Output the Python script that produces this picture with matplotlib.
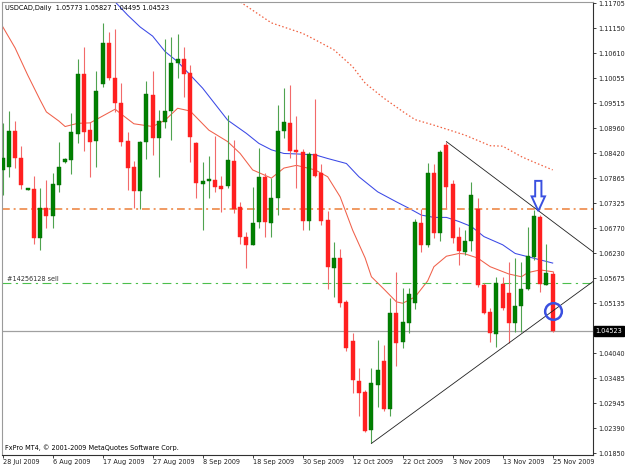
import matplotlib
matplotlib.use("Agg")
import matplotlib.pyplot as plt
from matplotlib.patches import Polygon
import numpy as np

# USDCAD daily bars, 28 Jul 2009 - 25 Nov 2009
opens = [1.0805, 1.0812, 1.0891, 1.0830, 1.0762, 1.0763, 1.0656, 1.0722, 1.0703, 1.0772,
         1.0822, 1.0827, 1.0884, 1.1015, 1.0892, 1.0868, 1.0993, 1.1083, 1.1006, 1.0952,
         1.0868, 1.0812, 1.0759, 1.0866, 1.0969, 1.0874, 1.0911, 1.0933, 1.1040, 1.1048,
         1.1017, 1.0865, 1.0774, 1.0781, 1.0783, 1.0770, 1.0770, 1.0825, 1.0723, 1.0659,
         1.0641, 1.0690, 1.0789, 1.0688, 1.0743, 1.0890, 1.0907, 1.0849, 1.0844, 1.0693,
         1.0839, 1.0799, 1.0695, 1.0591, 1.0611, 1.0516, 1.0431, 1.0343, 1.0319, 1.0235,
         1.0334, 1.0387, 1.0281, 1.0491, 1.0429, 1.0470, 1.0514, 1.0689, 1.0641, 1.0799,
         1.0667, 1.0860, 1.0774, 1.0658, 1.0626, 1.0650, 1.0719, 1.0553, 1.0494, 1.0446,
         1.0555, 1.0535, 1.0470, 1.0507, 1.0544, 1.0614, 1.0701, 1.0553, 1.05773]
highs = [1.0908, 1.0934, 1.0912, 1.0857, 1.0765, 1.0792, 1.0765, 1.0783, 1.0798, 1.0867,
         1.0831, 1.0930, 1.1048, 1.1075, 1.0910, 1.1022, 1.1127, 1.1107, 1.1114, 1.0995,
         1.0889, 1.0825, 1.0868, 1.1000, 1.1022, 1.0936, 1.1092, 1.1097, 1.1102, 1.1075,
         1.1035, 1.0867, 1.0823, 1.0835, 1.0880, 1.0792, 1.0925, 1.0871, 1.0734, 1.0670,
         1.0768, 1.0852, 1.0798, 1.0787, 1.0947, 1.0985, 1.0991, 1.0924, 1.0850, 1.0845,
         1.0960, 1.0819, 1.0716, 1.0648, 1.0631, 1.0520, 1.0447, 1.0371, 1.0323, 1.0371,
         1.0433, 1.0422, 1.0524, 1.0582, 1.0546, 1.0546, 1.0697, 1.0719, 1.0821, 1.0819,
         1.0849, 1.0867, 1.0783, 1.0681, 1.0673, 1.0779, 1.0743, 1.0557, 1.0502, 1.0571,
         1.0571, 1.0604, 1.0611, 1.0604, 1.0681, 1.0717, 1.0706, 1.0643, 1.05827]
lows = [1.0750, 1.0790, 1.0809, 1.0763, 1.0760, 1.0643, 1.0630, 1.0678, 1.0678, 1.0757,
        1.0820, 1.0796, 1.0864, 1.0846, 1.0790, 1.0812, 1.0987, 1.1002, 1.0932, 1.0858,
        1.0761, 1.0722, 1.0719, 1.0829, 1.0838, 1.0790, 1.0897, 1.0871, 1.1006, 1.0965,
        1.0823, 1.0743, 1.0673, 1.0744, 1.0757, 1.0713, 1.0765, 1.0710, 1.0642, 1.0590,
        1.0640, 1.0677, 1.0659, 1.0659, 1.0706, 1.0874, 1.0830, 1.0765, 1.0673, 1.0673,
        1.0790, 1.0684, 1.0544, 1.0527, 1.0504, 1.0409, 1.0317, 1.0265, 1.0232, 1.0206,
        1.0286, 1.0278, 1.0265, 1.0376, 1.0414, 1.0447, 1.0500, 1.0626, 1.0636, 1.0655,
        1.0650, 1.0721, 1.0645, 1.0597, 1.0619, 1.0627, 1.0549, 1.0489, 1.0429, 1.0418,
        1.0498, 1.0425, 1.0451, 1.0451, 1.0542, 1.0608, 1.0538, 1.0552, 1.04495]
closes = [1.0831, 1.0891, 1.0830, 1.0772, 1.0764, 1.0656, 1.0722, 1.0703, 1.0774, 1.0812,
          1.0829, 1.0888, 1.1015, 1.0889, 1.0867, 1.0978, 1.1083, 1.1007, 1.0952, 1.0866,
          1.0810, 1.0759, 1.0866, 1.0971, 1.0875, 1.0913, 1.0933, 1.1040, 1.1048, 1.1014,
          1.0878, 1.0776, 1.0781, 1.0784, 1.0768, 1.0763, 1.0827, 1.0719, 1.0657, 1.0641,
          1.0688, 1.0789, 1.0690, 1.0743, 1.0891, 1.0909, 1.0846, 1.0844, 1.0693, 1.0839,
          1.0792, 1.0693, 1.0593, 1.0611, 1.0514, 1.0414, 1.0345, 1.0317, 1.0234, 1.0338,
          1.0367, 1.0281, 1.0492, 1.0425, 1.0473, 1.0533, 1.0692, 1.0641, 1.0799, 1.0667,
          1.0845, 1.0768, 1.0655, 1.0627, 1.0650, 1.0750, 1.0553, 1.0492, 1.0447, 1.0557,
          1.0503, 1.0470, 1.0507, 1.0544, 1.0616, 1.0703, 1.0555, 1.0579, 1.04523]

date_ticks = [0, 8, 16, 24, 32, 40, 48, 56, 64, 72, 80, 88]
date_labels = ["28 Jul 2009", "6 Aug 2009", "17 Aug 2009", "27 Aug 2009", "8 Sep 2009",
               "18 Sep 2009", "30 Sep 2009", "12 Oct 2009", "22 Oct 2009", "3 Nov 2009",
               "13 Nov 2009", "25 Nov 2009"]
price_ticks = [1.11705, 1.11150, 1.10610, 1.10055, 1.09515, 1.08960, 1.08420, 1.07865,
               1.07325, 1.06770, 1.06230, 1.05675, 1.05135, 1.04580, 1.04040, 1.03485,
               1.02945, 1.02390, 1.01850]

# moving averages (read at a few bars)
ma_fast_x = [0, 2, 4, 6, 7, 9, 10, 12, 14, 16, 18, 19, 21, 24, 26, 28, 30, 33, 36, 38,
             40, 43, 45, 47, 50, 52, 54, 56, 58, 59, 61, 63, 64, 66, 68, 69, 71, 73, 74,
             76, 78, 81, 83, 84, 86, 88]
ma_fast_y = [1.1119, 1.1072, 1.1013, 1.0958, 1.0932, 1.0912, 1.0900, 1.0907, 1.0908, 1.0923,
             1.0938, 1.0927, 1.0906, 1.0900, 1.0914, 1.0940, 1.0934, 1.0892, 1.0867, 1.0841,
             1.0805, 1.0787, 1.0809, 1.0815, 1.0805, 1.0790, 1.0746, 1.0673, 1.0612, 1.0571,
             1.0544, 1.0516, 1.0513, 1.0527, 1.0562, 1.0593, 1.0616, 1.0622, 1.0621, 1.0612,
             1.0593, 1.0577, 1.0571, 1.0580, 1.0586, 1.0582]
ma_mid_x = [16, 18, 20, 22, 24, 26, 28, 32, 36, 39, 41, 43, 45, 47, 50, 52, 55, 57, 60,
            63, 65, 67, 69, 71, 73, 75, 77, 80, 82, 84, 88]
ma_mid_y = [1.1210, 1.1173, 1.1144, 1.1118, 1.1098, 1.1064, 1.1042, 1.0984, 1.0914, 1.0885,
            1.0863, 1.0849, 1.0841, 1.0840, 1.0838, 1.0830, 1.0819, 1.0790, 1.0757, 1.0735,
            1.0721, 1.0706, 1.0701, 1.0701, 1.0692, 1.0681, 1.0659, 1.0641, 1.0622, 1.0615,
            1.0601]
ma_slow_x = [36, 38, 43, 48, 50, 53, 56, 58, 61, 64, 66, 69, 72, 74, 78, 80, 83, 85, 88]
ma_slow_y = [1.1215, 1.1173, 1.1127, 1.1104, 1.1090, 1.1068, 1.1031, 1.0995, 1.0962, 1.0933,
             1.0915, 1.0903, 1.0890, 1.0881, 1.0858, 1.0857, 1.0834, 1.0822, 1.0805]

resist_level = 1.0720
order_level = 1.0557
last_price = 1.04523
upper_line_x = [71, 95]
upper_line_y = [1.0867, 1.0620]
lower_line_x = [59, 95]
lower_line_y = [1.0206, 1.0566]

plt.rcParams["font.family"] = "DejaVu Sans"
fs = 4.7

fig = plt.figure(figsize=(6.25, 4.69), dpi=100)
ax = fig.add_axes([2 / 625, 14 / 469, 591 / 625, 453 / 469])

x = np.arange(len(opens))
o = np.array(opens)
h = np.array(highs)
l = np.array(lows)
c = np.array(closes)
up = c >= o
body_lo = np.minimum(o, c)
body_h = np.maximum(np.abs(c - o), 0.00025)

ax.vlines(x[up], l[up], h[up], color="#4fa34f", lw=0.8, zorder=3)
ax.vlines(x[~up], l[~up], h[~up], color="#f26a6a", lw=0.8, zorder=3)
ax.bar(x[up], body_h[up], bottom=body_lo[up], width=0.64, color="#008000",
       edgecolor="#086808", lw=0.3, zorder=4)
ax.bar(x[~up], body_h[~up], bottom=body_lo[~up], width=0.64, color="#ff2020",
       edgecolor="#ff2020", lw=0.3, zorder=4)

ax.plot(ma_fast_x, ma_fast_y, color="#f0604a", lw=0.75, zorder=2)
ax.plot(ma_mid_x, ma_mid_y, color="#3a48e6", lw=0.75, zorder=2)
ax.plot(ma_slow_x, ma_slow_y, color="#f06040", lw=0.9, ls=(0, (1.2, 1.8)), zorder=2)

ax.axhline(resist_level, color="#f09a62", lw=1.4, ls=(0, (4, 2, 1, 2)), zorder=2)
ax.axhline(order_level, color="#4cbf4c", lw=0.8, ls=(0, (8, 4, 2, 4)), zorder=2)
ax.axhline(last_price, color="#a0a0a0", lw=0.9, zorder=1)
ax.text(0.7, order_level + 0.0002, "#14256128 sell", fontsize=fs, color="#303030",
        va="bottom", ha="left")

ax.plot(upper_line_x, upper_line_y, color="#202020", lw=0.6, zorder=5)
ax.plot(lower_line_x, lower_line_y, color="#202020", lw=0.6, zorder=5)

# blue arrow and circle markers
arrow_bar, sw, hw = 85.7, 0.5, 1.07
arrow_pts = [(arrow_bar - sw, 1.0781), (arrow_bar + sw, 1.0781), (arrow_bar + sw, 1.0747),
             (arrow_bar + hw, 1.0747), (arrow_bar, 1.0715), (arrow_bar - hw, 1.0747),
             (arrow_bar - sw, 1.0747)]
ax.add_patch(Polygon(arrow_pts, closed=True, fc="white", ec="#3a50e0", lw=1.4, zorder=6))
ax.plot([88], [1.0496], "o", ms=12, mfc="none", mec="#3a50e0", mew=1.8, zorder=6)

ax.set_xlim(-0.1, 94.45)
ax.set_ylim(1.018065, 1.117272)

# the tick label under the current-price box is hidden, as on the chart
ax.yaxis.tick_right()
ax.set_yticks(price_ticks)
ax.set_yticklabels(["" if abs(v - last_price) < 0.002 else f"{v:.5f}" for v in price_ticks])
ax.tick_params(axis="y", direction="out", length=2.2, width=0.6, pad=1.5,
               labelsize=fs, colors="#202020")
ax.set_xticks(date_ticks)
ax.set_xticklabels(date_labels)
for lab in ax.get_xticklabels():
    lab.set_horizontalalignment("left")
ax.tick_params(axis="x", direction="out", length=2.2, width=0.6, pad=1.0,
               labelsize=fs, colors="#202020")

for side in ["left", "top"]:
    ax.spines[side].set_color("#9a9a9a")
for side in ["right", "bottom"]:
    ax.spines[side].set_color("#303030")
for sp in ax.spines.values():
    sp.set_linewidth(0.8)

ax.text(1.004, last_price, f"{last_price:.5f}", transform=ax.get_yaxis_transform(),
        color="white", fontsize=fs, va="center", ha="left", zorder=10, clip_on=False,
        bbox=dict(boxstyle="square,pad=0.25", fc="black", ec="black"))

fig.text(5 / 625, 1 - 8 / 469,
         "USDCAD,Daily  1.05773 1.05827 1.04495 1.04523", fontsize=fs, va="center")
fig.text(5 / 625, 1 - 448 / 469,
         "FxPro MT4, \u00a9 2001-2009 MetaQuotes Software Corp.", fontsize=fs, va="center")

fig.savefig("out.png", dpi=100)
